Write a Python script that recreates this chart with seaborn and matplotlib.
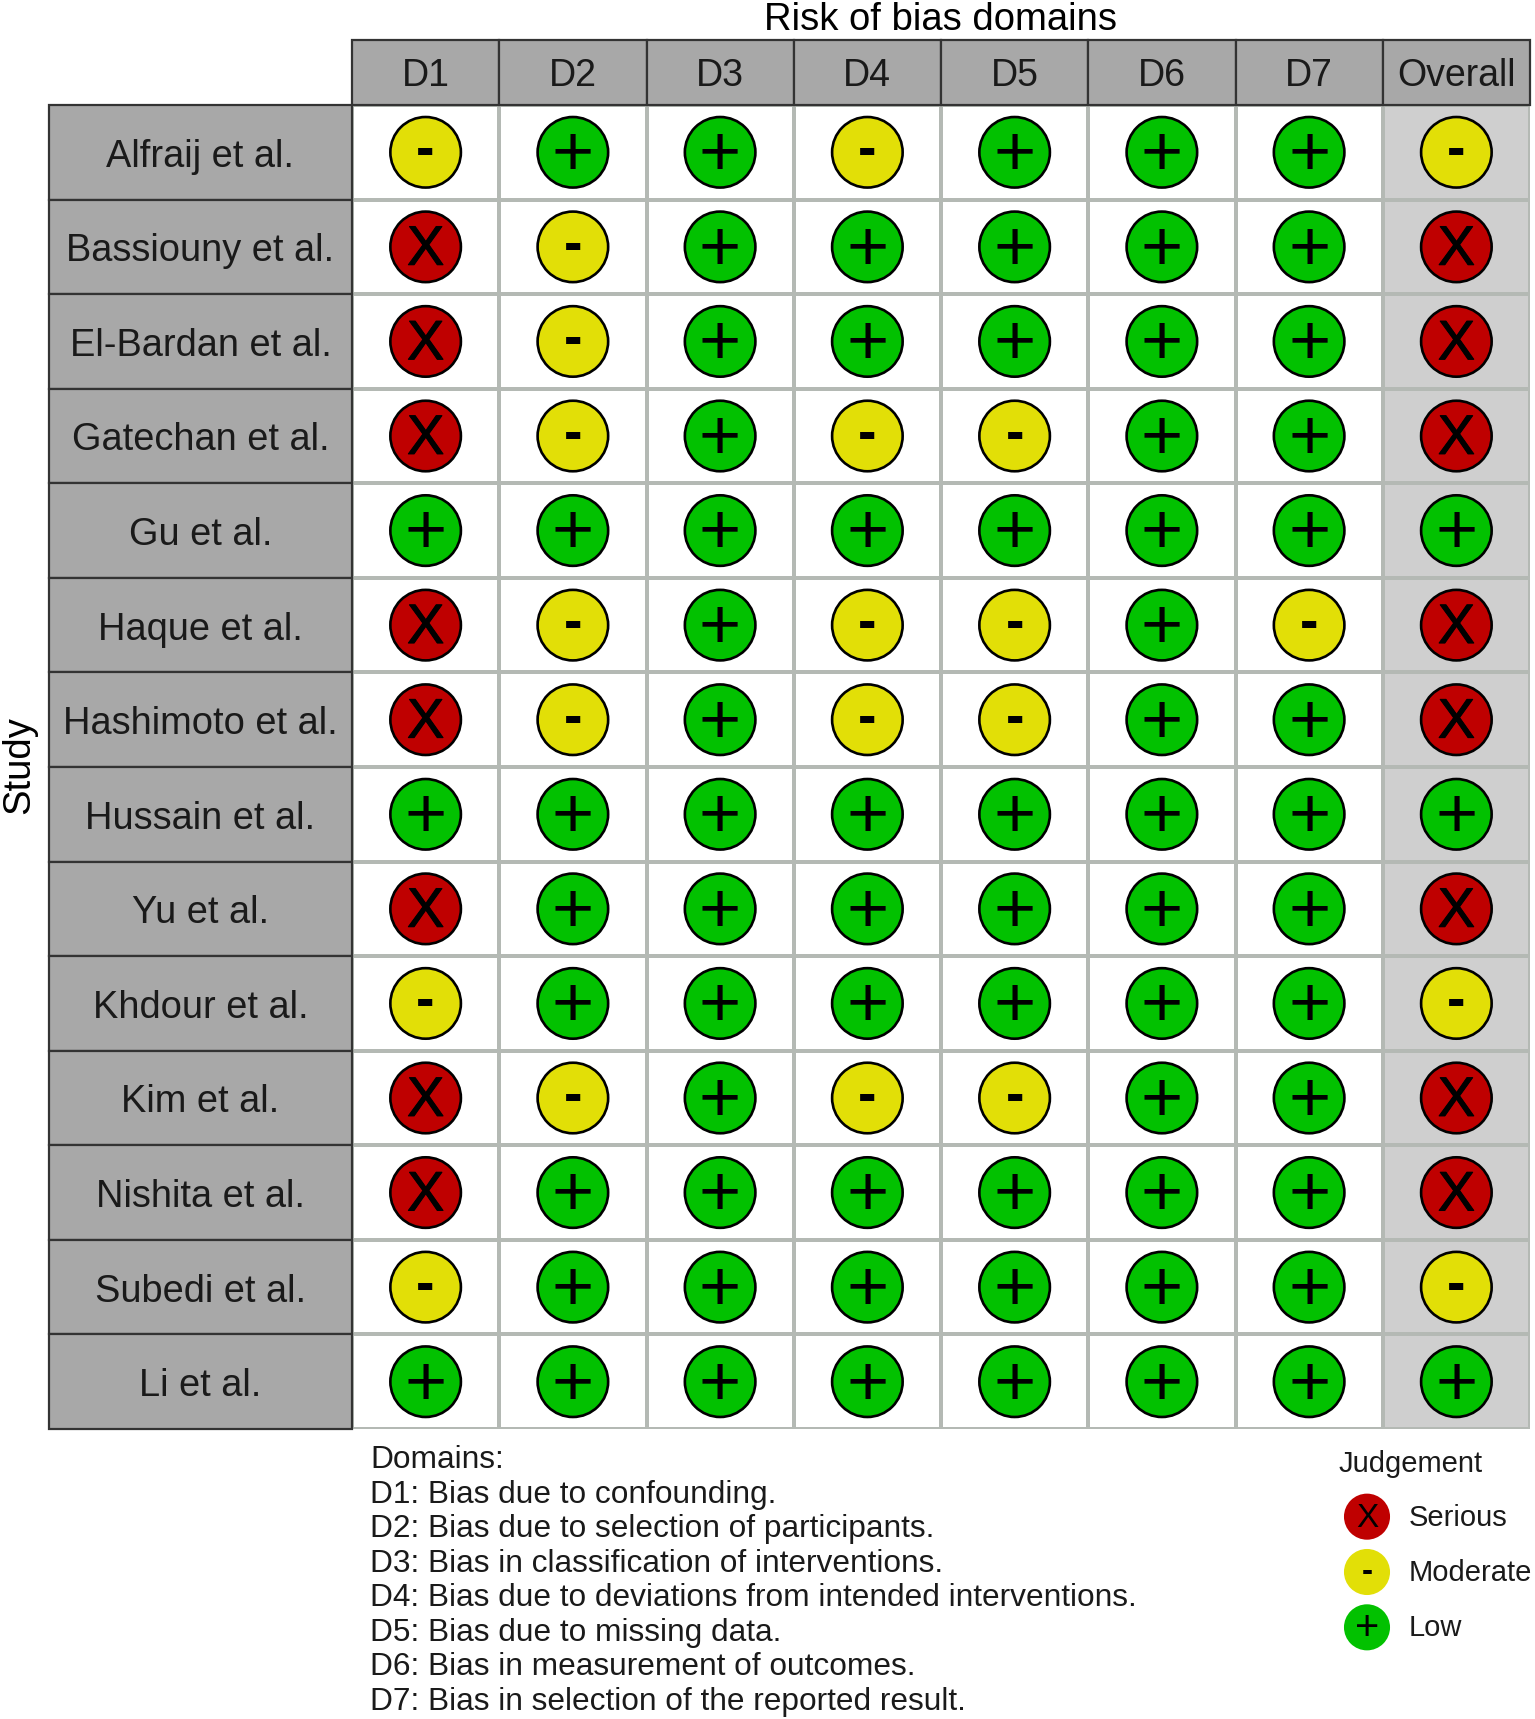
import numpy as np
import pandas as pd
import seaborn as sns
import matplotlib.pyplot as plt
from matplotlib.colors import ListedColormap
from matplotlib.patches import Rectangle
from matplotlib.transforms import ScaledTranslation
import matplotlib.patheffects as pe

W, H = 1535, 1719

studies = ["Alfraij et al.", "Bassiouny et al.", "El-Bardan et al.", "Gatechan et al.",
           "Gu et al.", "Haque et al.", "Hashimoto et al.", "Hussain et al.", "Yu et al.",
           "Khdour et al.", "Kim et al.", "Nishita et al.", "Subedi et al.", "Li et al."]
domains = ["D1", "D2", "D3", "D4", "D5", "D6", "D7", "Overall"]

d1 = list("-XXX+XX+X-XX-+")
d2 = list("+---+--+++-+++")
d3 = list("++++++++++++++")
d4 = list("-++-+--+++-+++")
d5 = list("+++-+--+++-+++")
d6 = list("++++++++++++++")
d7 = list("+++++-++++++++")
overall = list("-XXX+XX+X-XX-+")

domain_lines = ["Domains:",
                "D1: Bias due to confounding.",
                "D2: Bias due to selection of participants.",
                "D3: Bias in classification of interventions.",
                "D4: Bias due to deviations from intended interventions.",
                "D5: Bias due to missing data.",
                "D6: Bias in measurement of outcomes.",
                "D7: Bias in selection of the reported result."]

levels = ["X", "-", "+"]
level_names = ["Serious", "Moderate", "Low"]
colors = {"X": "#BF0000", "-": "#E2DF07", "+": "#02C100"}

sns.set_theme(style="white")
plt.rcParams["font.family"] = ["Liberation Sans", "DejaVu Sans"]
TXT = "#1a1a1a"

# font size, weight and vertical nudge (points) of each symbol
sym_style = {"X": (40, "normal", -2.8), "-": (40, "bold", 0), "+": (52, "normal", -3.1)}

# long table for the points
wide = pd.DataFrame(dict(zip(domains, [d1, d2, d3, d4, d5, d6, d7, overall])), index=studies)
long = wide.reset_index(names="study").melt(id_vars="study", var_name="domain", value_name="judgement")
long["col"] = long["domain"].map({d: i + 0.5 for i, d in enumerate(domains)})
long["row"] = long["study"].map({s: i + 0.5 for i, s in enumerate(studies)})

fig = plt.figure(figsize=(W / 100, H / 100), dpi=100)
left, right, top, bottom = 352, 1530, 105, 1429
ax = fig.add_axes([left / W, 1 - bottom / H, (right - left) / W, (bottom - top) / H])

# cell backgrounds, Overall column shaded
shade = pd.DataFrame(0, index=studies, columns=domains)
shade["Overall"] = 1
sns.heatmap(shade, ax=ax, cmap=ListedColormap(["white", "#CFCFCF"]), cbar=False,
            linewidths=1.6, linecolor="#B4B9B4", square=False)

sns.scatterplot(data=long, x="col", y="row", hue="judgement", palette=colors, s=2580,
                edgecolor="black", linewidth=1.9, legend=False, ax=ax, zorder=3, clip_on=False)
for _, r in long.iterrows():
    fs, fw, dy = sym_style[r["judgement"]]
    t = ax.annotate(r["judgement"], (r["col"], r["row"]), xytext=(0, dy), textcoords="offset points",
                    ha="center", va="center", fontsize=fs, fontweight=fw, color="black", zorder=4)
    if r["judgement"] == "X":
        t.set_path_effects([pe.withStroke(linewidth=0.8, foreground="black")])

# strip boxes around the tick labels
col_w = (right - left) / 8
row_h = (bottom - top) / 14
head_h = (top - 40) / row_h
side_w = (left - 49) / col_w
for i in range(8):
    ax.add_patch(Rectangle((i, -head_h), 1, head_h, fc="#A8A8A8", ec="#333333", lw=1.6, clip_on=False, zorder=1))
for i in range(14):
    ax.add_patch(Rectangle((-side_w, i), side_w, 1, fc="#A8A8A8", ec="#333333", lw=1.6, clip_on=False, zorder=1))

ax.set_axisbelow(False)
ax.set_xlabel("")
ax.set_ylabel("")
ax.xaxis.tick_top()
ax.tick_params(axis="x", length=0, pad=8.1, labelsize=27, labelcolor=TXT, rotation=0)
ax.tick_params(axis="y", length=0, pad=(left - 49) / 2 * 0.72, labelsize=27.4, labelcolor=TXT, rotation=0)
label_shift = ScaledTranslation(0, -4.4 / 100, fig.dpi_scale_trans)
for t in ax.get_yticklabels():
    t.set_ha("center")
    t.set_va("center")
    t.set_transform(t.get_transform() + label_shift)

fig.text(941 / W, 1 - 20 / H, "Risk of bias domains", ha="center", va="center", fontsize=27.5, color="black")
fig.text(19 / W, 1 - 765 / H, "Study", ha="center", va="center", rotation=90, fontsize=27.5, color="black")

for line, y in zip(domain_lines, np.arange(8)):
    fig.text(370 / W, 1 - (1460 + y * 34.5) / H, line, ha="left", va="center", fontsize=22.75, color=TXT)

# legend drawn as a small axes of its own
lax = fig.add_axes([1326 / W, 1 - 1655 / H, 205 / W, 166 / H])
leg = pd.DataFrame({"level": levels, "x": [0.0] * 3, "row": [0.5, 1.5, 2.5]})
sns.scatterplot(data=leg, x="x", y="row", hue="level", palette=colors, s=1100, linewidth=0,
                legend=False, ax=lax, clip_on=False)
lax.set_xlim(-0.2, 0.8)
lax.set_ylim(3, 0)
lax.axis("off")
for lv, name, y in zip(levels, level_names, leg["row"]):
    lax.annotate(lv, (0, y), xytext=(0, {"X": -1, "-": 0, "+": -1.5}[lv]), textcoords="offset points", ha="center", va="center",
                 fontsize={"X": 24, "-": 24, "+": 30}[lv], fontweight="bold" if lv == "-" else "normal", color="black")
    lax.annotate(name, (0.205, y), xytext=(0, -0.8), textcoords="offset points", ha="left", va="center", fontsize=21, color=TXT)
fig.text(1339 / W, 1 - 1464 / H, "Judgement", ha="left", va="center", fontsize=21, color=TXT)

fig.savefig("out.png", dpi=100)
